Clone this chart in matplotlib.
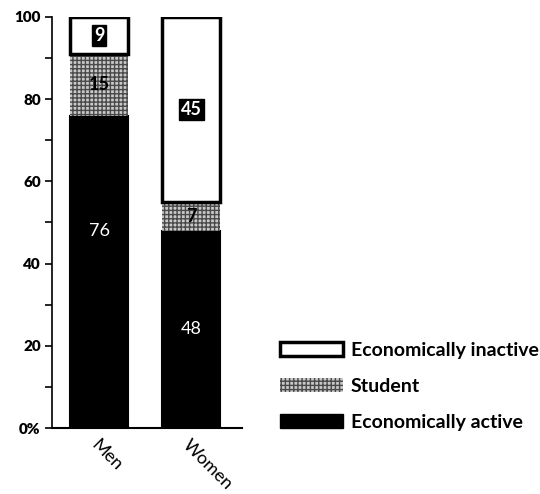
import matplotlib.pyplot as plt
from matplotlib.patches import Patch

plt.rcParams['font.family'] = ['Lato', 'DejaVu Sans']

groups = ["Men", "Women"]
active = [76, 48]
student = [15, 7]
inactive = [9, 45]

fig = plt.figure(figsize=(5.4, 4.94), dpi=100)
ax = fig.add_axes([0.096, 0.1336, 0.352, 0.832])

x = [0, 1]
w = 0.63
ax.bar(x, active, width=w, color="black", edgecolor="black", linewidth=1.5)
ax.bar(x, student, width=w, bottom=active, color="#c9c9c9",
       edgecolor="#4a4a4a", hatch="++++", linewidth=0)
bottoms = [a + s for a, s in zip(active, student)]
ax.bar(x, inactive, width=w, bottom=bottoms, color="white",
       edgecolor="black", linewidth=2.5)

# value labels
active_pos = [48, 24]
for i in x:
    ax.text(i, active_pos[i], str(active[i]), color="white", ha="center",
            va="center", fontsize=13)
    ax.text(i, active[i] + student[i] / 2, str(student[i]), color="black",
            ha="center", va="center", fontsize=13, fontweight="bold")
    ax.text(i, bottoms[i] + inactive[i] / 2, str(inactive[i]), color="white",
            ha="center", va="center", fontsize=13, fontweight="bold",
            bbox=dict(boxstyle="square,pad=0.1", fc="black", ec="black"))

ax.set_xlim(-0.516, 1.549)
ax.set_ylim(0, 100)
ax.set_yticks([0, 20, 40, 60, 80, 100])
ax.set_yticklabels(["0%", "20", "40", "60", "80", "100"], fontweight="heavy",
                   fontsize=11)
ax.set_yticks([10, 30, 50, 70, 90], minor=True)
ax.tick_params(axis="y", which="both", direction="out", length=5, width=1.2,
               pad=3)
ax.set_xticks(x)
ax.set_xticklabels(groups, rotation=-45, ha="left", rotation_mode="anchor",
                   fontsize=13)
ax.tick_params(axis="x", length=0, pad=6)
for s in ["top", "right"]:
    ax.spines[s].set_visible(False)
ax.spines["left"].set_linewidth(1.2)
ax.spines["bottom"].set_linewidth(1.5)

handles = [
    Patch(facecolor="white", edgecolor="black", linewidth=2.5),
    Patch(facecolor="#c9c9c9", edgecolor="#4a4a4a", hatch="++++", linewidth=0),
    Patch(facecolor="black", edgecolor="black"),
]
labels = ["Economically inactive", "Student", "Economically active"]
fig.legend(handles, labels, loc="upper left",
           bbox_to_anchor=(0.518, 0.308), frameon=False, borderpad=0,
           borderaxespad=0, handlelength=3.25, handleheight=0.72,
           handletextpad=0.4, labelspacing=0.98,
           prop={"size": 14, "weight": "bold"})

fig.savefig("out.png", dpi=100)
